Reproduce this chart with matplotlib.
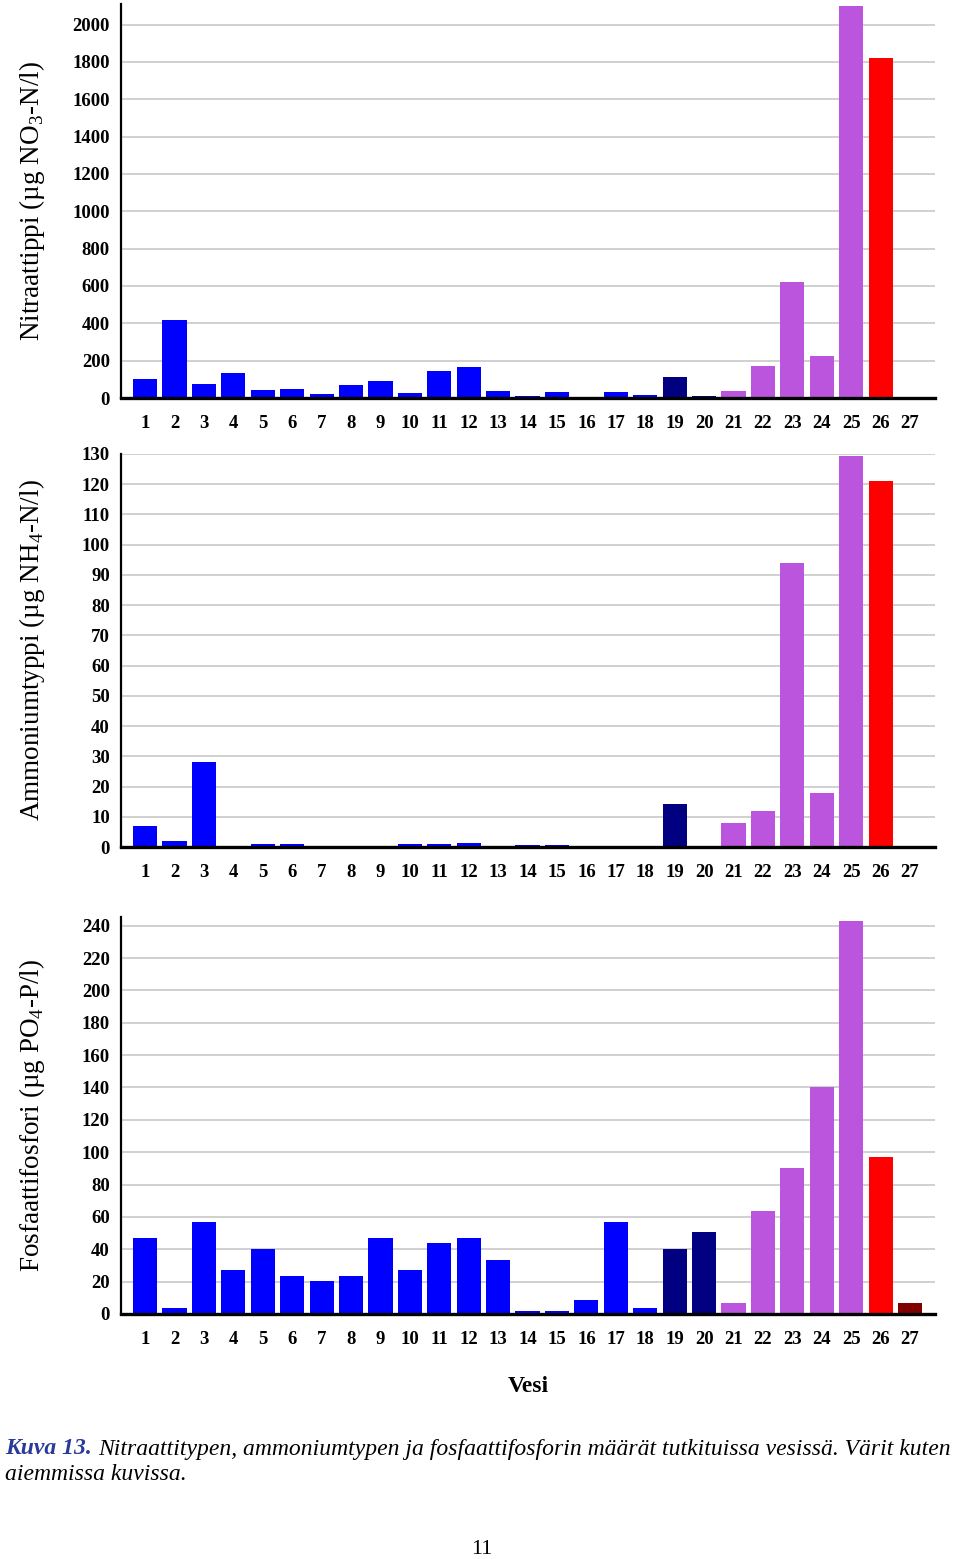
import matplotlib.pyplot as plt

# sample sites 1..27
sites = list(range(1, 28))

nitrate = [100, 420, 75, 133, 45, 46, 23, 71, 91, 25, 146, 164, 39, 12, 32, 2, 32, 18,
           112, 12, 39, 171, 620, 225, 2100, 1820, 3]
ammonium = [7, 2, 28, 0, 1, 1, 0, 0, 0, 1, 1, 1.3, 0, 0.5, 0.5, 0, 0.3, 0,
            14.3, 0, 8.1, 12, 94, 18, 129.4, 121, 0]
phosphate = [47, 3.7, 57, 27, 40.4, 23.7, 20.4, 23.7, 47, 27, 43.7, 47, 33.6, 2, 1.6, 8.9,
             57, 3.7, 40.4, 50.5, 7, 63.7, 90.3, 140.4, 243, 97, 7]

# colours as in the earlier figures
bar_colors = ["#0000FF"] * 18 + ["#000080"] * 2 + ["#BB55DD"] * 5 + ["#FF0000", "#800000"]

ylabels = [
    r"Nitraattippi (µg NO$_3$-N/l)",
    r"Ammoniumtyppi (µg NH$_4$-N/l)",
    r"Fosfaattifosfori (µg PO$_4$-P/l)",
]
yticks = [range(0, 2001, 200), range(0, 131, 10), range(0, 241, 20)]
ylims = [2110, 130, 245.5]

plt.rcParams["font.family"] = "Liberation Serif"
plt.rcParams["mathtext.fontset"] = "custom"
plt.rcParams["mathtext.rm"] = "Liberation Serif"

fig = plt.figure(figsize=(9.6, 15.59), dpi=100)

# axes boxes in figure fraction (left, bottom, width, height)
boxes = [
    (0.126, 0.7447, 0.848, 0.2527),
    (0.126, 0.4567, 0.848, 0.2521),
    (0.126, 0.1572, 0.848, 0.2547),
]

for data, box, lab, ticks, top in zip([nitrate, ammonium, phosphate], boxes, ylabels, yticks, ylims):
    ax = fig.add_axes(box)
    ax.bar(sites, data, width=0.82, color=bar_colors, zorder=3)
    ax.set_xlim(0.18, 27.85)
    ax.set_ylim(0, top)
    ax.set_yticks(list(ticks))
    ax.set_xticks(sites)
    ax.set_xticklabels([str(s) for s in sites], fontweight="bold", fontsize=13.5)
    for t in ax.get_yticklabels():
        t.set_fontweight("bold")
        t.set_fontsize(13.5)
    ax.tick_params(axis="x", length=0, pad=12)
    ax.tick_params(axis="y", length=0, pad=8)
    ax.grid(axis="y", color="#C8C8C8", linewidth=1.2, zorder=0)
    ax.spines["top"].set_visible(False)
    ax.spines["right"].set_visible(False)
    ax.spines["left"].set_linewidth(1.6)
    ax.spines["bottom"].set_linewidth(2.4)
    ax.spines["bottom"].set_zorder(4)
    ax.set_ylabel(lab, fontsize=19.5)
    ax.yaxis.set_label_coords(-0.091, 0.5)

fig.text(0.55, 1 - 1386 / 1559, "Vesi", ha="center", va="center", fontsize=17, fontweight="bold")

# caption
y1 = 1 - 1449 / 1559
y2 = 1 - 1474 / 1559
k = fig.text(0.005, y1, "Kuva 13.", color="#2A3A9A", fontsize=17, style="italic",
             fontweight="bold", va="center")
fig.canvas.draw()
bb = k.get_window_extent()
fig.text(bb.x1 / fig.bbox.width + 0.007, y1,
         "Nitraattitypen, ammoniumtypen ja fosfaattifosforin määrät tutkituissa vesissä. Värit kuten",
         fontsize=17, style="italic", va="center")
fig.text(0.005, y2, "aiemmissa kuvissa.", fontsize=17, style="italic", va="center")

fig.text(0.502, 1 - 1550 / 1559, "11", ha="center", va="center", fontsize=16)

fig.savefig("out.png", dpi=100)
